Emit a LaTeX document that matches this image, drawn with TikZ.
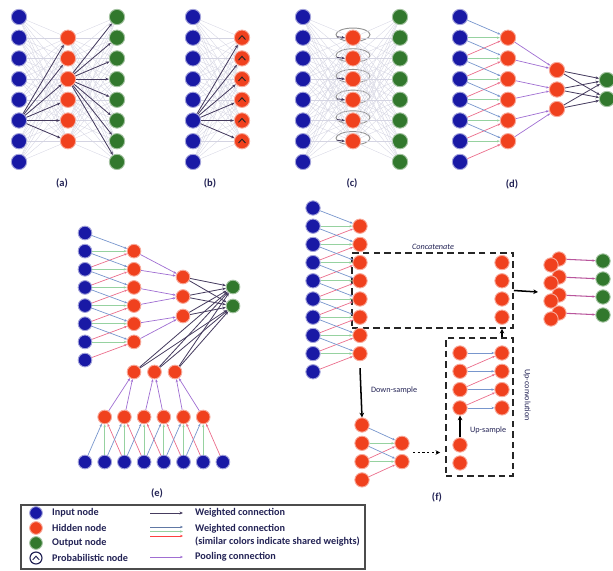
\documentclass[tikz,border=0pt]{standalone}
\usepackage{fontspec}
\setmainfont{Carlito}
\usetikzlibrary{arrows.meta,calc,backgrounds}

\definecolor{inblue}{RGB}{25,25,165}
\definecolor{hidred}{RGB}{240,65,30}
\definecolor{outgreen}{RGB}{50,120,45}
\definecolor{wdark}{RGB}{70,60,95}
\definecolor{faintc}{RGB}{212,212,226}
\definecolor{cblue}{RGB}{120,150,205}
\definecolor{cgreen}{RGB}{150,210,160}
\definecolor{cpink}{RGB}{235,110,140}
\definecolor{poolc}{RGB}{160,110,210}
\definecolor{txtc}{RGB}{35,35,85}

\begin{document}
\begin{tikzpicture}[
    x=0.03cm, y=-0.03cm,
    font=\bfseries\fontsize{8.7}{10}\selectfont,
    every node/.style={text=txtc},
    innode/.style={circle, inner sep=0pt, minimum size=0.46cm, fill=inblue, draw=inblue!40, line width=0.8pt},
    hidnode/.style={innode, fill=hidred, draw=hidred!45},
    outnode/.style={innode, fill=outgreen, draw=outgreen!45},
    smallnode/.style={minimum size=0.41cm},
    midnode/.style={minimum size=0.43cm},
    faint/.style={draw=faintc, line width=0.3pt},
    wconn/.style={draw=wdark, line width=0.7pt, -{Stealth[length=3pt,width=2.5pt]}},
    convb/.style={draw=cblue, line width=0.6pt, -{Stealth[length=2.5pt,width=2pt]}},
    convg/.style={convb, draw=cgreen},
    convp/.style={convb, draw=cpink},
    poolconn/.style={convb, draw=poolc},
    loopc/.style={draw=gray!85, line width=0.8pt},
    chev/.style={draw=black!85, line width=0.8pt},
    panellabel/.style={font=\bfseries\fontsize{9}{10}\selectfont},
    smalltext/.style={font=\fontsize{7}{8}\selectfont},
    dashbox/.style={draw=black!85, line width=1.4pt, dash pattern=on 5.5pt off 3.5pt, inner sep=0pt},
    bigarrow/.style={draw=black, line width=1.3pt, -{Stealth[length=4pt,width=4pt]}},
]
\useasboundingbox (0,0) rectangle (613,571);

% ---------- (a) ----------
\foreach \i in {1,...,8} {
    \node[innode] (a-in-\i) at (19, {17+20.7*(\i-1)}) {};
    \node[outnode] (a-out-\i) at (117, {17+20.7*(\i-1)}) {};
}
\foreach \j in {1,...,6}
    \node[hidnode] (a-h-\j) at (68, {17+20.7*\j}) {};
\foreach \i in {1,...,8}
    \foreach \j in {1,...,6} {
        \draw[faint] (a-in-\i) -- (a-h-\j);
        \draw[faint] (a-h-\j) -- (a-out-\i);
    }
\foreach \j in {1,...,6}
    \draw[wconn] (a-in-6) -- (a-h-\j);
\foreach \i in {1,...,8}
    \draw[wconn] (a-h-3) -- (a-out-\i);
\node[panellabel] (a-lab) at (62,183) {(a)};

% ---------- (b) ----------
\foreach \i in {1,...,8}
    \node[innode] (b-in-\i) at (193, {17+20.7*(\i-1)}) {};
\foreach \j in {1,...,6} {
    \node[hidnode] (b-h-\j) at (242, {17+20.7*\j}) {};
    \draw[chev] ($(b-h-\j)+(-3.5,1.8)$) -- ($(b-h-\j)+(0,-2)$) -- ($(b-h-\j)+(3.5,1.8)$);
}
\foreach \i in {1,...,8}
    \foreach \j in {1,...,6}
        \draw[faint] (b-in-\i) -- (b-h-\j);
\foreach \j in {1,...,6}
    \draw[wconn] (b-in-6) -- (b-h-\j);
\node[panellabel] (b-lab) at (210,183) {(b)};

% ---------- (c) ----------
\foreach \i in {1,...,8} {
    \node[innode] (c-in-\i) at (303, {17+20.7*(\i-1)}) {};
    \node[outnode] (c-out-\i) at (400, {17+20.7*(\i-1)}) {};
}
\foreach \j in {1,...,6}
    \node[hidnode] (c-h-\j) at (353, {17+20.7*\j}) {};
\begin{scope}[on background layer]
\foreach \j in {1,...,6}
    \draw[loopc] ($(c-h-\j)+(0,-3)$) ellipse [x radius=0.51cm, y radius=0.2cm];
\end{scope}
\foreach \i in {1,...,8}
    \foreach \j in {1,...,6} {
        \draw[faint] (c-in-\i) -- (c-h-\j);
        \draw[faint] (c-h-\j) -- (c-out-\i);
    }
\foreach \j in {1,...,6}
    \draw[wconn] ($(c-h-\j)+(-16,-1)$) -- (c-h-\j.west);
\node[panellabel] (c-lab) at (352,183) {(c)};

% ---------- (d) ----------
\foreach \i in {1,...,8}
    \node[innode] (d-in-\i) at (460, {17+20.7*(\i-1)}) {};
\foreach \j in {1,...,6}
    \node[hidnode] (d-h-\j) at (508, {17+20.7*\j}) {};
\foreach \k in {1,2,3}
    \node[hidnode] (d-p-\k) at (557, {70+19.5*(\k-1)}) {};
\node[outnode] (d-out-1) at (607,80) {};
\node[outnode] (d-out-2) at (607,99) {};
\foreach \j in {1,...,6} {
    \pgfmathtruncatemacro\jb{\j+1}
    \pgfmathtruncatemacro\jc{\j+2}
    \draw[convb] (d-in-\j) -- (d-h-\j);
    \draw[convg] (d-in-\jb) -- (d-h-\j);
    \draw[convp] (d-in-\jc) -- (d-h-\j);
}
\foreach \k in {1,2,3} {
    \pgfmathtruncatemacro\ja{2*\k-1}
    \pgfmathtruncatemacro\jb{2*\k}
    \draw[poolconn] (d-h-\ja) -- (d-p-\k);
    \draw[poolconn] (d-h-\jb) -- (d-p-\k);
    \draw[wconn] (d-p-\k) -- (d-out-1);
    \draw[wconn] (d-p-\k) -- (d-out-2);
}
\node[panellabel] (d-lab) at (512,184) {(d)};

% ---------- (e) ----------
\foreach \i in {1,...,8} {
    \node[innode, smallnode] (e-in-\i) at (85, {233+18.15*(\i-1)}) {};
    \node[innode, smallnode] (e-bin-\i) at ({85+19.7*(\i-1)}, 462) {};
}
\foreach \j in {1,...,6} {
    \node[hidnode, smallnode] (e-h-\j) at (134, {233+18.15*\j}) {};
    \node[hidnode, smallnode] (e-bh-\j) at ({85+19.7*\j}, 417) {};
}
\foreach \k in {1,2,3} {
    \node[hidnode, smallnode] (e-p-\k) at (183, {277+19.5*(\k-1)}) {};
    \node[hidnode, smallnode] (e-bp-\k) at ({134+20.5*(\k-1)}, 372) {};
}
\node[outnode, smallnode] (e-out-1) at (233,287) {};
\node[outnode, smallnode] (e-out-2) at (233,306) {};
\foreach \j in {1,...,6} {
    \pgfmathtruncatemacro\jb{\j+1}
    \pgfmathtruncatemacro\jc{\j+2}
    \draw[convb] (e-in-\j) -- (e-h-\j);
    \draw[convg] (e-in-\jb) -- (e-h-\j);
    \draw[convp] (e-in-\jc) -- (e-h-\j);
    \draw[convb] (e-bin-\j) -- (e-bh-\j);
    \draw[convg] (e-bin-\jb) -- (e-bh-\j);
    \draw[convp] (e-bin-\jc) -- (e-bh-\j);
}
\foreach \k in {1,2,3} {
    \pgfmathtruncatemacro\ja{2*\k-1}
    \pgfmathtruncatemacro\jb{2*\k}
    \draw[poolconn] (e-h-\ja) -- (e-p-\k);
    \draw[poolconn] (e-h-\jb) -- (e-p-\k);
    \draw[poolconn] (e-bh-\ja) -- (e-bp-\k);
    \draw[poolconn] (e-bh-\jb) -- (e-bp-\k);
    \foreach \o in {1,2} {
        \draw[wconn] (e-p-\k) -- (e-out-\o);
        \draw[wconn] (e-bp-\k) -- (e-out-\o);
    }
}
\node[panellabel] (e-lab) at (157,493) {(e)};

% ---------- (f) ----------
\node[dashbox, minimum width=4.83cm, minimum height=2.25cm] (f-cat) at (432.5,290.5) {};
\node[dashbox, minimum width=2.01cm, minimum height=4.14cm] (f-up) at (479.5,407) {};
\node[smalltext, font=\itshape\fontsize{7}{8}\selectfont] (f-cat-lab) at (433,247) {Concatenate};
\node[smalltext, rotate=-90] (f-up-lab) at (527,395) {Up-convolution};

\foreach \i in {1,...,10}
    \node[innode, midnode] (f-in-\i) at (313, {208+18.2*(\i-1)}) {};
\foreach \j in {1,...,8}
    \node[hidnode, midnode] (f-h-\j) at (360, {208+18.2*\j}) {};
\foreach \j in {1,...,8} {
    \pgfmathtruncatemacro\jb{\j+1}
    \pgfmathtruncatemacro\jc{\j+2}
    \draw[convb] (f-in-\j) -- (f-h-\j);
    \draw[convg] (f-in-\jb) -- (f-h-\j);
    \draw[convp] (f-in-\jc) -- (f-h-\j);
}
% concatenated column
\foreach \j in {1,...,4}
    \node[hidnode, midnode] (f-c-\j) at (502, {262.6+18.2*(\j-1)}) {};

% down-sample branch
\foreach \i in {1,...,4}
    \node[hidnode, midnode] (f-dl-\i) at (362, {425+18.3*(\i-1)}) {};
\foreach \j in {1,2} {
    \pgfmathtruncatemacro\jb{\j+1}
    \pgfmathtruncatemacro\jc{\j+2}
    \node[hidnode, midnode] (f-dr-\j) at (402, {425+18.3*\j}) {};
    \draw[convb] (f-dl-\j) -- (f-dr-\j);
    \draw[convg] (f-dl-\jb) -- (f-dr-\j);
    \draw[convp] (f-dl-\jc) -- (f-dr-\j);
}
\draw[bigarrow] ($(f-h-8.south)+(0,7)$) -- (f-dl-1.north);
\node[smalltext, anchor=west] (f-down-lab) at (367,390) {Down-sample};
\coordinate (f-dots) at (413,452.5);
\draw[bigarrow, line width=1.6pt, dash pattern=on 2pt off 2pt] (f-dots) -- ($(f-up.west |- f-dots)+(-5,0)$);

% up-sample and up-convolution
\node[hidnode, midnode] (f-us-1) at (460,445) {};
\node[hidnode, midnode] (f-us-2) at (460,463) {};
\foreach \i in {1,...,4} {
    \node[hidnode, midnode] (f-ul-\i) at (460, {353+18.3*(\i-1)}) {};
    \node[hidnode, midnode] (f-ur-\i) at (502, {353+18.3*(\i-1)}) {};
    \draw[convb] (f-ul-\i) -- (f-ur-\i);
}
\foreach \i in {1,2,3} {
    \pgfmathtruncatemacro\ib{\i+1}
    \draw[convp] (f-ul-\ib) -- (f-ur-\i);
}
\draw[bigarrow] (f-us-1.north) -- (f-ul-4.south);
\node[smalltext, anchor=west] (f-us-lab) at (466,430) {Up-sample};
\draw[bigarrow, line width=1pt] (f-ur-1 |- f-up.north) -- (f-ur-1 |- f-cat.south);

% output
\coordinate (f-catout) at (538,292);
\draw[bigarrow] (f-cat.east) -- (f-catout);
\foreach \k in {1,...,4} {
    \node[hidnode, midnode] (f-ob-\k) at (559, {259+18*(\k-1)}) {};
    \node[hidnode, midnode] (f-of-\k) at (551, {265+18*(\k-1)}) {};
    \node[outnode, midnode] (f-out-\k) at (603, {261+18*(\k-1)}) {};
    \draw[convb, draw=violet!55!pink, line width=0.9pt] (f-ob-\k) -- (f-out-\k);
}
\node[panellabel] (f-lab) at (437,497) {(f)};

% ---------- legend ----------
\draw[draw=black!70, line width=1.3pt] (21,505) rectangle (365,569);
\node[innode, minimum size=0.38cm] (lg-in) at (36,513) {};
\node[hidnode, minimum size=0.38cm] (lg-hid) at (36,528) {};
\node[outnode, minimum size=0.38cm] (lg-out) at (36,543) {};
\node[circle, inner sep=0pt, minimum size=0.36cm, fill=white, draw=txtc, line width=1pt] (lg-prob) at (36,558) {};
\draw[chev, draw=txtc] ($(lg-prob)+(-3.2,1.8)$) -- ($(lg-prob)+(0,-1.8)$) -- ($(lg-prob)+(3.2,1.8)$);
\node[anchor=west] (lg-in-t) at (48,513) {Input node};
\node[anchor=west] (lg-hid-t) at (48,528) {Hidden node};
\node[anchor=west] (lg-out-t) at (48,543) {Output node};
\node[anchor=west] (lg-prob-t) at (48,558) {Probabilistic node};

\coordinate (lg-w-a) at (150,513);  \coordinate (lg-w-b) at (183,513);
\coordinate (lg-b-a) at (150,527);  \coordinate (lg-b-b) at (183,527);
\coordinate (lg-g-a) at (150,531.5);\coordinate (lg-g-b) at (183,531.5);
\coordinate (lg-p-a) at (150,536);  \coordinate (lg-p-b) at (183,536);
\coordinate (lg-pl-a) at (150,557); \coordinate (lg-pl-b) at (183,557);
\draw[wconn] (lg-w-a) -- (lg-w-b);
\draw[convb, draw=cblue!80!black] (lg-b-a) -- (lg-b-b);
\draw[convg] (lg-g-a) -- (lg-g-b);
\draw[convp, draw=red!75] (lg-p-a) -- (lg-p-b);
\draw[poolconn] (lg-pl-a) -- (lg-pl-b);
\node[anchor=west] (lg-w-t) at (191,513) {Weighted connection};
\node[anchor=west] (lg-s-t) at (191,529) {Weighted connection};
\node[anchor=west] (lg-s-t2) at (191,542) {(similar colors indicate shared weights)};
\node[anchor=west] (lg-pl-t) at (191,557) {Pooling connection};

\end{tikzpicture}
\end{document}
